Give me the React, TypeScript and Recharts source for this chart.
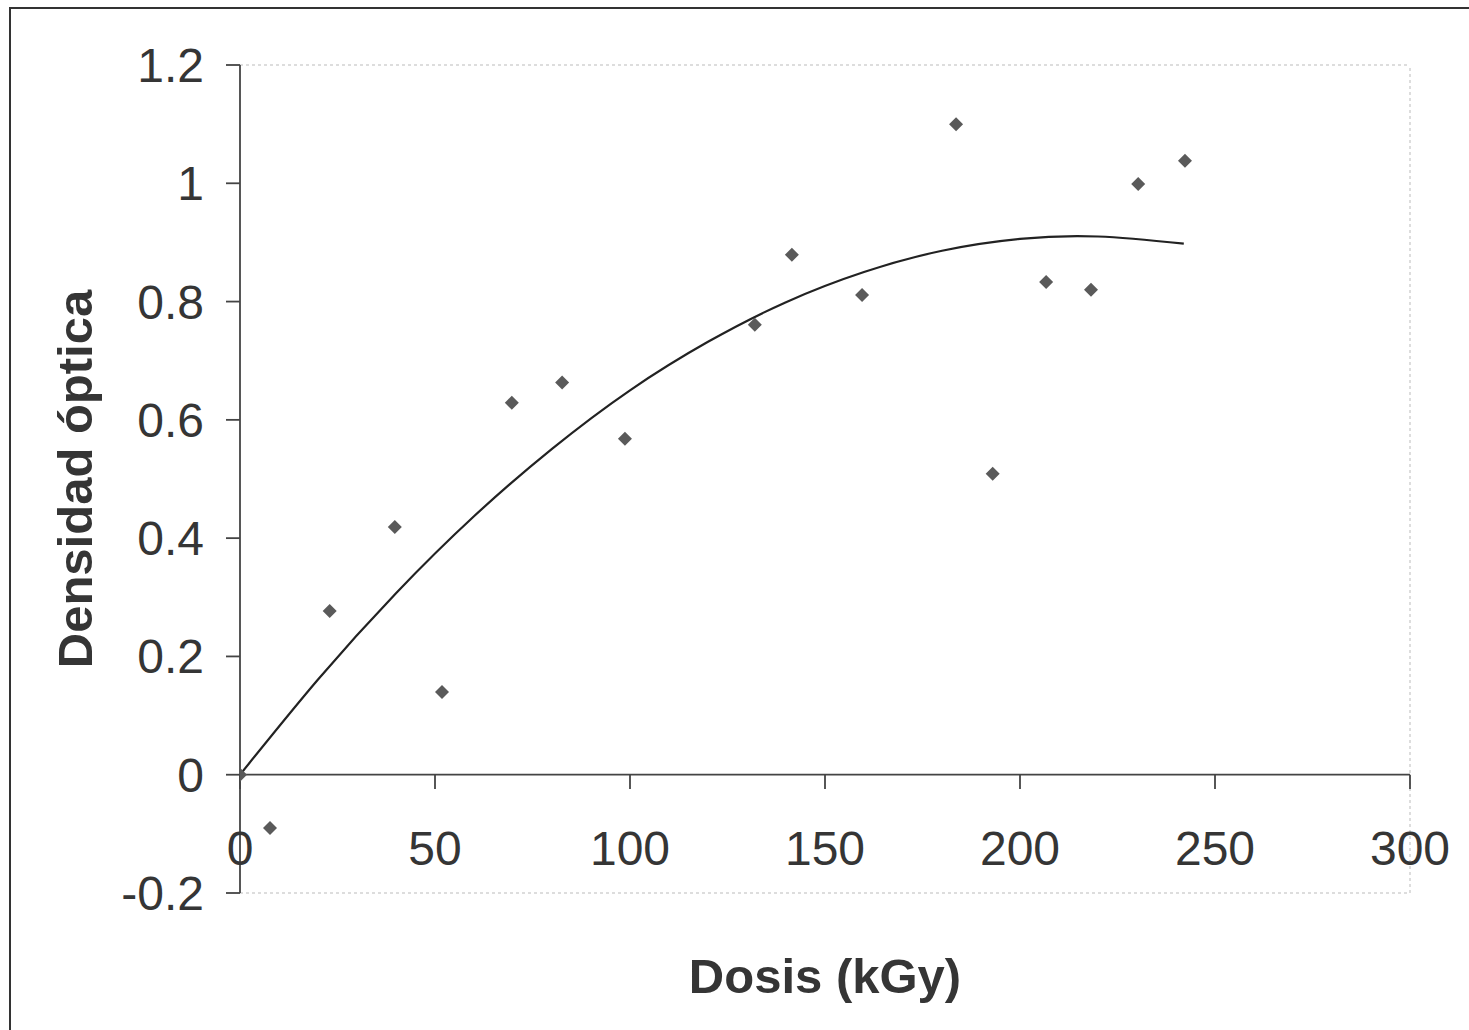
import React from "react";
import {
  ComposedChart,
  Scatter,
  Line,
  XAxis,
  YAxis,
  ReferenceLine,
} from "recharts";

// measured points (Dosis kGy, Densidad óptica)
const doseValues = [0, 7.7, 23, 39.7, 51.8, 69.7, 82.6, 98.7, 132, 141.5, 159.5, 183.6, 193, 206.7, 218.2, 230.3, 242.3];
const densityValues = [0, -0.09, 0.277, 0.419, 0.14, 0.629, 0.663, 0.568, 0.761, 0.879, 0.811, 1.1, 0.509, 0.833, 0.82, 0.999, 1.038];

// trendline
const trendDose = [0, 20, 40, 60, 80, 100, 120, 140, 160, 180, 200, 220, 242];
const trendDensity = [0, 0.161, 0.307, 0.437, 0.551, 0.65, 0.732, 0.799, 0.85, 0.886, 0.906, 0.91, 0.898];

const xTicks = [0, 50, 100, 150, 200, 250, 300];
const yTicks = [-0.2, 0, 0.2, 0.4, 0.6, 0.8, 1, 1.2];

const points = doseValues.map((x, i) => ({ x, y: densityValues[i] }));
const trend = trendDose.map((x, i) => ({ x, y: trendDensity[i] }));

const FONT = "'Liberation Sans', Arial, sans-serif";
const TEXT = "#353535";

const Diamond = (props: any) => {
  const { cx, cy } = props;
  const r = 7;
  return (
    <polygon
      points={`${cx},${cy - r} ${cx + r},${cy} ${cx},${cy + r} ${cx - r},${cy}`}
      fill="#5a5a5a"
    />
  );
};

const XTick = (props: any) => {
  const { x, y, payload } = props;
  return (
    <text x={x} y={y - 28} textAnchor="middle" fontSize={48} fill={TEXT} fontFamily={FONT}>
      {payload.value}
    </text>
  );
};

export default function App() {
  return (
    <div
      style={{
        position: "absolute",
        left: 0,
        top: 0,
        width: 1469,
        height: 1030,
        background: "#fff",
        overflow: "hidden",
      }}
    >
      <div
        style={{
          position: "absolute",
          left: 9,
          top: 7,
          width: 1500,
          height: 1100,
          border: "2px solid #333",
        }}
      />
      <div style={{ position: "absolute", left: 0, top: 0 }}>
        <ComposedChart
          width={1469}
          height={1030}
          margin={{ top: 65, right: 59, left: 40, bottom: 20 }}
        >
          <XAxis
            type="number"
            dataKey="x"
            domain={[0, 300]}
            ticks={xTicks}
            height={117}
            axisLine={false}
            tickLine={false}
            tickSize={0}
            tickMargin={0}
            tick={<XTick />}
            interval={0}
            allowDataOverflow
            label={{
              content: (p: any) => {
                const vb = p.viewBox;
                return (
                  <text
                    x={vb.x + vb.width / 2}
                    y={993}
                    textAnchor="middle"
                    fontSize={49}
                    fontWeight="bold"
                    fill={TEXT}
                    fontFamily={FONT}
                  >
                    Dosis (kGy)
                  </text>
                );
              },
            }}
          />
          <YAxis
            type="number"
            domain={[-0.2, 1.2]}
            ticks={yTicks}
            width={200}
            interval={0}
            allowDataOverflow
            axisLine={{ stroke: "#444", strokeWidth: 1.8 }}
            tickLine={{ stroke: "#444", strokeWidth: 1.8 }}
            tickSize={14}
            tickMargin={22}
            tick={{ fontSize: 48, fill: TEXT, fontFamily: FONT }}
            label={{
              content: (p: any) => {
                const vb = p.viewBox;
                const cy = vb.y + vb.height / 2;
                return (
                  <text
                    x={92}
                    y={cy}
                    transform={`rotate(-90, 92, ${cy})`}
                    textAnchor="middle"
                    fontSize={49}
                    fontWeight="bold"
                    fill={TEXT}
                    fontFamily={FONT}
                  >
                    Densidad óptica
                  </text>
                );
              },
            }}
          />
          <ReferenceLine y={1.2} stroke="#bbb" strokeDasharray="3 3" />
          <ReferenceLine y={-0.2} stroke="#bbb" strokeDasharray="3 3" />
          <ReferenceLine x={300} stroke="#bbb" strokeDasharray="3 3" />
          <ReferenceLine y={0} stroke="#444" strokeWidth={1.8} />
          {xTicks.map((t) => (
            <ReferenceLine
              key={t}
              segment={[
                { x: t, y: 0 },
                { x: t, y: -0.024 },
              ]}
              stroke="#444"
              strokeWidth={1.8}
            />
          ))}
          <Line
            data={trend}
            dataKey="y"
            type="natural"
            stroke="#222"
            strokeWidth={2.2}
            dot={false}
            activeDot={false}
            isAnimationActive={false}
          />
          <Scatter data={points} dataKey="y" shape={<Diamond />} isAnimationActive={false} />
        </ComposedChart>
      </div>
    </div>
  );
}
